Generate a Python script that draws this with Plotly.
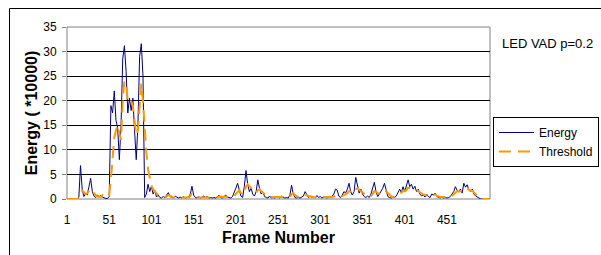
import plotly.graph_objects as go

# Energy (*10000), sampled every 2nd frame starting at frame 1
energy = [
    0, 0, 0, 0, 0, 0, 0,
    0.3, 6.8, 2.0, 0.5, 1.2, 0.8, 2.5, 4.2, 1.5, 0.6, 0.3, 0.8, 0.5, 0.7, 0.4, 0.2, 0.1, 0.1,
    0.5, 19.0, 17.5, 22.0, 16.0, 14.5, 8.0, 15.0, 28.5, 31.2, 26.0, 17.5, 20.5, 18.0, 20.5, 14.0, 8.0, 15.0, 29.0, 31.6, 25.0, 0.3, 1.0, 3.0, 1.5,
    2.6, 1.0, 1.8, 0.4, 0.8, 0.3, 0.2, 0.5, 0.3, 0.8, 1.3, 0.5, 0.3, 0.2, 0.6, 0.3, 0.2, 0.4, 0.2, 0.5, 0.2, 0.3, 0.4, 1.0, 2.6,
    0.8, 0.3, 0.2, 0.5, 0.2, 0.4, 0.6, 0.3, 0.5, 0.2, 0.3, 0.2, 0.3, 0.2, 0.4, 0.8, 0.3, 0.2, 0.5, 0.8, 0.4, 0.3, 0.2, 0.5, 1.2,
    2.2, 3.2, 1.8, 0.6, 0.3, 2.5, 5.8, 3.0, 1.5, 2.2, 1.0, 0.6, 1.5, 3.9, 2.2, 1.0, 1.4, 0.5, 0.3, 0.2, 0.6, 0.2, 0.3, 0.2, 0.5,
    0.3, 0.2, 0.6, 0.3, 0.2, 0.3, 0.2, 0.8, 2.8, 1.0, 0.3, 0.2, 0.3, 0.2, 0.4, 0.6, 1.5, 0.8, 0.3, 0.6, 0.3, 0.5, 0.2, 0.7, 0.3,
    0.5, 0.2, 0.4, 0.3, 0.2, 0.5, 0.3, 0.6, 1.0, 2.0, 1.8, 0.6, 0.3, 0.8, 1.5, 1.2, 2.0, 3.2, 1.5, 0.8, 1.5, 4.4, 2.5, 1.2, 2.0,
    1.0, 0.5, 0.3, 0.6, 0.3, 1.0, 2.0, 3.4, 1.5, 0.5, 1.0, 1.5, 2.2, 3.2, 1.8, 0.5, 0.3, 0.2, 0.4, 0.3, 0.6, 1.5, 2.0, 1.3, 2.5,
    1.5, 2.5, 3.9, 2.5, 3.0, 2.0, 2.6, 1.5, 2.0, 1.0, 0.6, 0.8, 0.4, 1.0, 0.5, 0.3, 1.0, 0.8, 1.2, 0.5, 0.3, 0.2, 0.4, 0.2, 0.3,
    0.2, 0.3, 0.5, 1.0, 1.5, 2.5, 1.8, 1.5, 2.0, 1.2, 3.2, 2.4, 2.9, 1.8, 1.5, 2.0, 1.0, 0.6, 0.3, 0.2, 0, 0, 0, 0, 0,
    0,
]

threshold = [
    0, 0, 0, 0, 0, 0, 0,
    0.2, 0.8, 1.8, 1.3, 1.0, 1.2, 1.6, 2.0, 1.8, 1.2, 0.8, 0.5, 0.5, 0.4, 0.8, 0.7, 0.5, 0.3,
    0.8, 4.0, 9.0, 12.5, 14.0, 15.0, 13.5, 12.0, 20.0, 24.0, 23.5, 20.0, 19.5, 20.0, 19.0, 16.5, 13.0, 14.0, 19.0, 23.5, 20.0, 14.0, 9.5, 6.0, 4.0,
    2.8, 2.0, 1.6, 1.0, 0.8, 0.6, 0.4, 0.4, 0.3, 0.5, 0.8, 0.7, 0.4, 0.3, 0.4, 0.3, 0.3, 0.3, 0.3, 0.3, 0.3, 0.3, 0.3, 0.6, 1.2,
    1.0, 0.6, 0.4, 0.3, 0.3, 0.3, 0.4, 0.4, 0.3, 0.3, 0.3, 0.3, 0.3, 0.3, 0.3, 0.5, 0.5, 0.4, 0.4, 0.5, 0.5, 0.4, 0.3, 0.3, 0.6,
    1.0, 1.6, 1.8, 1.3, 0.9, 1.2, 2.5, 3.0, 2.6, 2.2, 1.8, 1.4, 1.2, 1.8, 2.0, 1.6, 1.3, 1.0, 0.7, 0.5, 0.4, 0.4, 0.3, 0.3, 0.3,
    0.3, 0.3, 0.3, 0.3, 0.3, 0.3, 0.3, 0.4, 1.0, 1.2, 0.8, 0.5, 0.4, 0.3, 0.3, 0.4, 0.7, 0.8, 0.6, 0.5, 0.4, 0.4, 0.3, 0.4, 0.4,
    0.4, 0.3, 0.3, 0.3, 0.3, 0.3, 0.3, 0.4, 0.5, 0.8, 1.0, 0.8, 0.6, 0.6, 0.9, 1.0, 1.2, 1.6, 1.5, 1.2, 1.2, 2.0, 2.2, 1.8, 1.6,
    1.4, 1.0, 0.7, 0.5, 0.5, 0.6, 1.0, 1.6, 1.5, 1.2, 1.0, 1.2, 1.4, 1.7, 1.6, 1.2, 0.8, 0.5, 0.4, 0.4, 0.5, 0.8, 1.2, 1.3, 1.6,
    1.6, 1.8, 2.3, 2.2, 2.2, 2.0, 2.0, 1.8, 1.6, 1.3, 1.0, 0.9, 0.8, 0.8, 0.7, 0.6, 0.8, 0.8, 0.9, 0.7, 0.5, 0.4, 0.4, 0.4, 0.4,
    0.4, 0.4, 0.4, 0.6, 0.9, 1.4, 1.6, 1.5, 1.6, 1.5, 2.0, 2.1, 2.2, 1.9, 1.7, 1.7, 1.3, 0.9, 0.6, 0.3, 0, 0, 0, 0, 0,
    0,
]

x_tick_labels = [1, 51, 101, 151, 201, 251, 301, 351, 401, 451]
y_ticks = [0, 5, 10, 15, 20, 25, 30, 35]

frames_e = [1 + 2 * i for i in range(len(energy))]
frames_t = [1 + 2 * i for i in range(len(threshold))]

FONT = "Liberation Sans, Arial, sans-serif"

fig = go.Figure()
fig.add_trace(go.Scatter(x=frames_e, y=energy, mode="lines", name="Energy",
                         line=dict(color="#000080", width=1)))
fig.add_trace(go.Scatter(x=frames_t, y=threshold, mode="lines", name="Threshold",
                         line=dict(color="#FF9900", width=2, dash="12px,7px")))

L, R, T, B = 67, 111, 27, 56
W, H = 601, 255
pw, ph = W - L - R, H - T - B

fig.update_layout(
    width=W, height=H,
    margin=dict(l=L, r=R, t=T, b=B, autoexpand=False),
    paper_bgcolor="white", plot_bgcolor="white",
    font=dict(family=FONT, size=12, color="black"),
    xaxis=dict(range=[1, 502], tickmode="array", tickvals=x_tick_labels,
               ticktext=[str(v) for v in x_tick_labels],
               showgrid=False, zeroline=False, showline=False, ticks="",
               tickfont=dict(size=12), ticklabelstandoff=12, automargin=False,
               title=dict(text="<b>Frame Number</b>", font=dict(size=16), standoff=5)),
    yaxis=dict(range=[0, 35], tickmode="array", tickvals=y_ticks,
               showgrid=True, gridcolor="black", gridwidth=1, zeroline=False,
               showline=False, ticks="outside", ticklen=4, tickcolor="#808080",
               tickfont=dict(size=12), ticklabelstandoff=3, automargin=False,
               title=dict(text="<b>Energy ( *10000)</b>", font=dict(size=16), standoff=1)),
    legend=dict(xref="container", yref="container",
                x=493 / W, y=1 - 117 / H, xanchor="left", yanchor="top",
                bordercolor="black", borderwidth=1, bgcolor="white",
                font=dict(size=12), itemwidth=35, tracegroupgap=0),
    showlegend=True,
    shapes=[
        dict(type="rect", xref="paper", yref="paper", x0=0, x1=1, y0=0, y1=1,
             line=dict(color="#808080", width=1), layer="between"),
        dict(type="rect", xref="paper", yref="paper",
             x0=(9.5 - L) / pw, x1=2, y0=-2, y1=(H - B - 8.5) / ph,
             line=dict(color="black", width=1), layer="below"),
    ],
    annotations=[
        dict(text="LED VAD p=0.2", xref="paper", yref="paper",
             x=(500 - L) / pw, y=(199 - 43) / ph, xanchor="left", yanchor="middle",
             showarrow=False, font=dict(size=13)),
    ],
)

fig.write_html("out.html", config={"displayModeBar": False},
               post_script="document.body.style.margin='0';document.body.style.overflow='hidden';")
